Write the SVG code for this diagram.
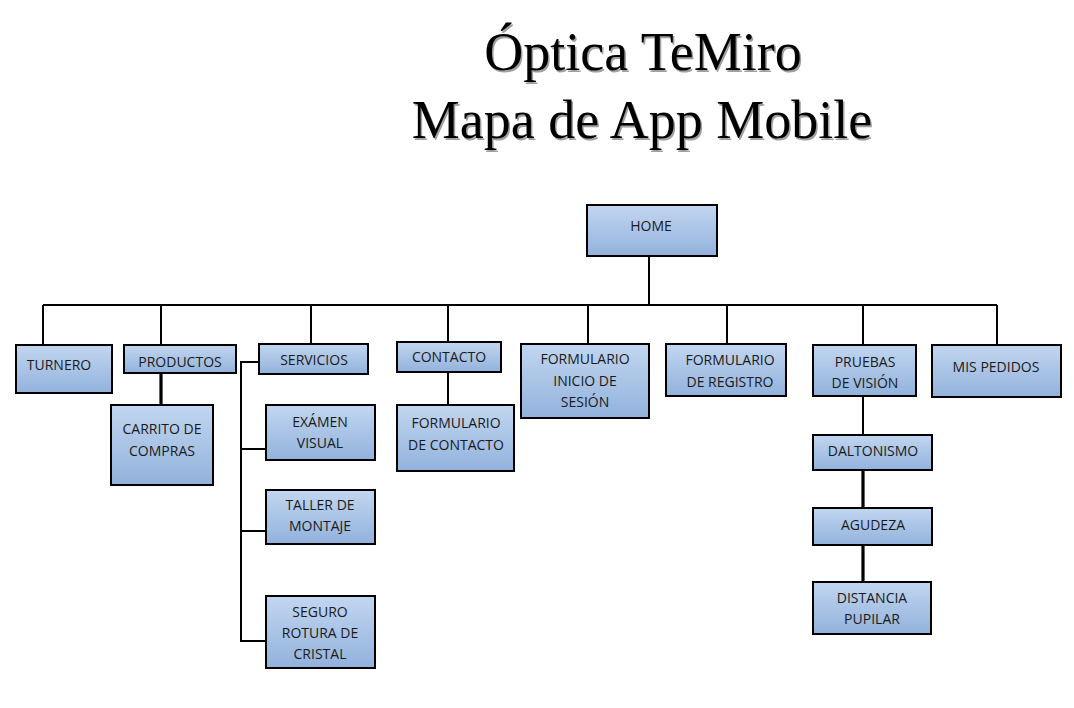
<svg xmlns="http://www.w3.org/2000/svg" width="1074" height="708" viewBox="0 0 1074 708">
<defs>
<linearGradient id="fill" x1="0" y1="0" x2="0" y2="1">
<stop offset="0" stop-color="#c2d6f0"/>
<stop offset="1" stop-color="#92b2dc"/>
</linearGradient>
</defs>
<style>
.box{fill:url(#fill);stroke:#000;stroke-width:2}
.lbl{font-family:"Open Sans","Liberation Sans",sans-serif;font-size:14px;fill:#1a1a1a;text-anchor:middle}
.ttl{font-family:"Liberation Serif","DejaVu Serif",serif;font-size:54px;text-anchor:middle}
.c{stroke:#000;stroke-width:2;fill:none}
.ct{stroke:#000;stroke-width:3.2;fill:none}
</style>
<rect width="1074" height="708" fill="#fff"/>
<g id="title">
<text class="ttl" x="644.5" y="71.5" fill="#a0a0a0">Óptica TeMiro</text>
<text class="ttl" x="643.5" y="139.5" fill="#a0a0a0">Mapa de App Mobile</text>
<text class="ttl" x="643" y="70" fill="#000">Óptica TeMiro</text>
<text class="ttl" x="642" y="138" fill="#000">Mapa de App Mobile</text>
</g>
<g id="connectors">
<path class="c" d="M649 256V305M43 305H997M43 305V345M161 305V345M311 305V344M448 305V342M588 305V344M727 305V344M863 305V345M997 305V345"/>
<path class="ct" d="M161 373V405"/>
<path class="c" d="M448 372V405"/>
<path class="c" d="M259 362H241V641H266M241 449H266M241 531H266"/>
<path class="c" d="M863 396V435"/>
<path class="ct" d="M863 470V508M863 545V582"/>
</g>
<g id="home"><rect class="box" x="587" y="205" width="130" height="51"/><text class="lbl" x="651" y="231">HOME</text></g>
<g id="turnero"><rect class="box" x="16" y="345" width="96" height="48"/><text class="lbl" x="59" y="370">TURNERO</text></g>
<g id="productos"><rect class="box" x="124" y="345" width="112" height="28"/><text class="lbl" x="180" y="367">PRODUCTOS</text></g>
<g id="carrito"><rect class="box" x="111" y="405" width="102" height="80"/><text class="lbl" x="162" y="434">CARRITO DE</text><text class="lbl" x="162" y="456">COMPRAS</text></g>
<g id="servicios"><rect class="box" x="259" y="344" width="109" height="30"/><text class="lbl" x="314" y="365">SERVICIOS</text></g>
<g id="examen"><rect class="box" x="266" y="405" width="109" height="55"/><text class="lbl" x="320" y="427">EXÁMEN</text><text class="lbl" x="320" y="448">VISUAL</text></g>
<g id="taller"><rect class="box" x="266" y="490" width="109" height="54"/><text class="lbl" x="320" y="510">TALLER DE</text><text class="lbl" x="320" y="531">MONTAJE</text></g>
<g id="seguro"><rect class="box" x="266" y="596" width="109" height="72"/><text class="lbl" x="320" y="617">SEGURO</text><text class="lbl" x="320" y="638">ROTURA DE</text><text class="lbl" x="320" y="659">CRISTAL</text></g>
<g id="contacto"><rect class="box" x="397" y="342" width="104" height="30"/><text class="lbl" x="449" y="362">CONTACTO</text></g>
<g id="formcontacto"><rect class="box" x="397" y="405" width="117" height="66"/><text class="lbl" x="456" y="428">FORMULARIO</text><text class="lbl" x="456" y="450">DE CONTACTO</text></g>
<g id="forminicio"><rect class="box" x="521" y="344" width="128" height="74"/><text class="lbl" x="585" y="364">FORMULARIO</text><text class="lbl" x="585" y="386">INICIO DE</text><text class="lbl" x="585" y="407">SESIÓN</text></g>
<g id="formregistro"><rect class="box" x="666" y="344" width="120" height="52"/><text class="lbl" x="730" y="365">FORMULARIO</text><text class="lbl" x="730" y="387">DE REGISTRO</text></g>
<g id="pruebas"><rect class="box" x="813" y="345" width="103" height="51"/><text class="lbl" x="865" y="367">PRUEBAS</text><text class="lbl" x="865" y="388">DE VISIÓN</text></g>
<g id="mispedidos"><rect class="box" x="932" y="345" width="129" height="52"/><text class="lbl" x="996" y="372">MIS PEDIDOS</text></g>
<g id="daltonismo"><rect class="box" x="813" y="435" width="119" height="35"/><text class="lbl" x="873" y="456">DALTONISMO</text></g>
<g id="agudeza"><rect class="box" x="813" y="508" width="119" height="37"/><text class="lbl" x="873" y="530">AGUDEZA</text></g>
<g id="distancia"><rect class="box" x="813" y="582" width="118" height="52"/><text class="lbl" x="872" y="603">DISTANCIA</text><text class="lbl" x="872" y="624">PUPILAR</text></g>
</svg>
